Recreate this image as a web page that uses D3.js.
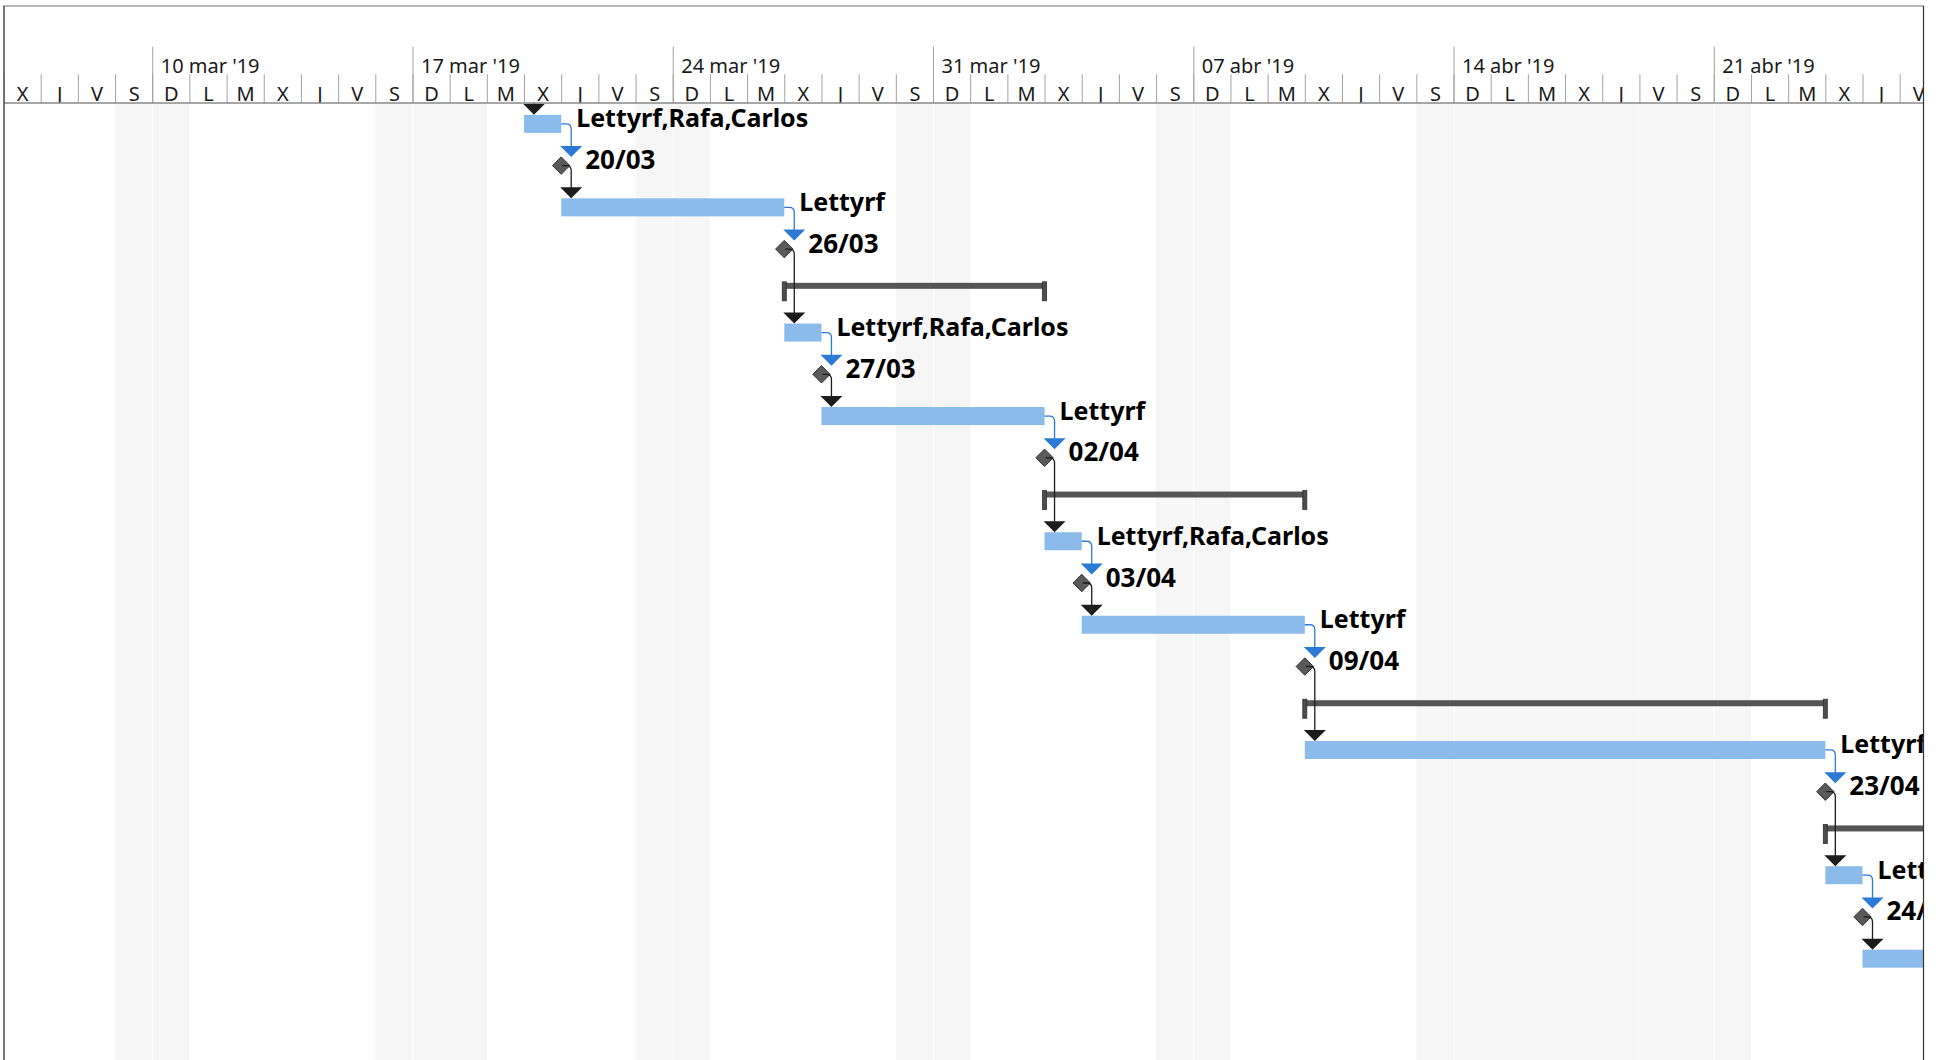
<!DOCTYPE html>
<html>
<head>
<meta charset="utf-8">
<script src="https://cdn.jsdelivr.net/npm/d3@7"></script>
<style>
  body { margin: 0; background: #fff; }
  svg { display: block; font-family: "Noto Sans", "Open Sans", sans-serif; }
</style>
</head>
<body>
<div id="chart"></div>
<script>
// rows of the gantt view, top to bottom
const rowKinds = ['task', 'milestone', 'task', 'milestone', 'summary',
                  'task', 'milestone', 'task', 'milestone', 'summary',
                  'task', 'milestone', 'task', 'milestone', 'summary',
                  'task', 'milestone', 'summary', 'task', 'milestone', 'task'];
const rowStarts = ['2019-03-20', '2019-03-20', '2019-03-21', '2019-03-26', '2019-03-27',
                   '2019-03-27', '2019-03-27', '2019-03-28', '2019-04-02', '2019-04-03',
                   '2019-04-03', '2019-04-03', '2019-04-04', '2019-04-09', '2019-04-10',
                   '2019-04-10', '2019-04-23', '2019-04-24', '2019-04-24', '2019-04-24', '2019-04-25'];
const rowFinishes = ['2019-03-20', '2019-03-20', '2019-03-26', '2019-03-26', '2019-04-02',
                     '2019-03-27', '2019-03-27', '2019-04-02', '2019-04-02', '2019-04-09',
                     '2019-04-03', '2019-04-03', '2019-04-09', '2019-04-09', '2019-04-23',
                     '2019-04-23', '2019-04-23', '2019-05-07', '2019-04-24', '2019-04-24', '2019-05-01'];
const rowLabels = ['Lettyrf,Rafa,Carlos', '20/03', 'Lettyrf', '26/03', '',
                   'Lettyrf,Rafa,Carlos', '27/03', 'Lettyrf', '02/04', '',
                   'Lettyrf,Rafa,Carlos', '03/04', 'Lettyrf', '09/04', '',
                   'Lettyrf', '23/04', '', 'Lettyrf,Rafa,Carlos', '24/04', 'Lettyrf'];
// predecessor -> successor (row index, -1 = task above the view)
const links = [[-1, 0], [0, 1], [1, 2], [2, 3], [3, 5], [5, 6], [6, 7], [7, 8], [8, 10],
               [10, 11], [11, 12], [12, 13], [13, 15], [15, 16], [16, 18], [18, 19], [19, 20]];
const holidays = ['2019-03-18', '2019-04-15', '2019-04-16', '2019-04-17', '2019-04-18', '2019-04-19'];
const dayLetters = ['D', 'L', 'M', 'X', 'J', 'V', 'S'];
const monthAbbr = ['ene', 'feb', 'mar', 'abr', 'may', 'jun', 'jul', 'ago', 'sep', 'oct', 'nov', 'dic'];
const viewStart = '2019-03-06';
const viewEnd = '2019-04-27';

const width = 1942, height = 1060;
const left = 3.5, right = 1923, dayW = 37.18;
const topY = 6, headerBottom = 103, rowH = 41.74;

const parse = d3.utcParse('%Y-%m-%d');
const d0 = parse(viewStart), d1 = parse(viewEnd);
const nDays = d3.utcDay.count(d0, d1);

const x = d3.scaleUtc().domain([d0, d1]).range([left, left + nDays * dayW]);
const y = d3.scaleLinear().domain([0, 1]).range([headerBottom, headerBottom + rowH]);
const yc = i => y(i + 0.5);
const endOf = s => d3.utcDay.offset(parse(s), 1);

const locale = d3.timeFormatLocale({
    dateTime: '%A, %e de %B de %Y, %X', date: '%d/%m/%Y', time: '%H:%M:%S',
    periods: ['AM', 'PM'],
    days: ['domingo', 'lunes', 'martes', 'miércoles', 'jueves', 'viernes', 'sábado'],
    shortDays: ['dom', 'lun', 'mar', 'mié', 'jue', 'vie', 'sáb'],
    months: ['enero', 'febrero', 'marzo', 'abril', 'mayo', 'junio', 'julio', 'agosto',
             'septiembre', 'octubre', 'noviembre', 'diciembre'],
    shortMonths: monthAbbr
});
const fmtWeek = locale.utcFormat("%d %b '%y");

const svg = d3.select('#chart').append('svg')
    .attr('width', width).attr('height', height);

svg.append('clipPath').attr('id', 'clip-head')
    .append('rect').attr('x', 4).attr('y', topY).attr('width', right - 4).attr('height', headerBottom - topY);
svg.append('clipPath').attr('id', 'clip-body')
    .append('rect').attr('x', 4).attr('y', headerBottom).attr('width', right - 4).attr('height', height - headerBottom);

// body: non working days
const body = svg.append('g').attr('clip-path', 'url(#clip-body)');
const holidaySet = new Set(holidays);
const days = d3.utcDay.range(d0, d1);
const offDays = days.filter(d => d.getUTCDay() === 0 || d.getUTCDay() === 6 || holidaySet.has(d3.utcFormat('%Y-%m-%d')(d)));

body.selectAll('rect.off').data(offDays).enter().append('rect')
    .attr('class', 'off')
    .attr('x', d => x(d))
    .attr('y', headerBottom)
    .attr('width', d => x(d3.utcDay.offset(d, 1)) - x(d))
    .attr('height', height - headerBottom)
    .attr('fill', '#f6f6f6');

body.selectAll('line.week').data(d3.utcSunday.range(d0, d1)).enter().append('line')
    .attr('class', 'week')
    .attr('x1', d => x(d) + 0.5).attr('x2', d => x(d) + 0.5)
    .attr('y1', headerBottom).attr('y2', height)
    .attr('stroke', '#fff').attr('stroke-width', 1);

// rows
const rows = rowKinds.map((k, i) => ({
    i, kind: k, label: rowLabels[i],
    x0: x(parse(rowStarts[i])), x1: x(endOf(rowFinishes[i]))
}));

const summaries = rows.filter(r => r.kind === 'summary');
body.selectAll('rect.sum').data(summaries).enter().append('rect')
    .attr('x', r => r.x0).attr('y', r => yc(r.i) - 8)
    .attr('width', r => r.x1 - r.x0).attr('height', 6)
    .attr('fill', '#555');
summaries.forEach(r => {
    [r.x0, r.x1].forEach(cx => {
        body.append('rect')
            .attr('x', cx - 2).attr('y', yc(r.i) - 9)
            .attr('width', 4).attr('height', 19)
            .attr('fill', '#4d4d4d').attr('stroke', '#2e2e2e').attr('stroke-width', 0.8);
    });
});

const tasks = rows.filter(r => r.kind === 'task');
body.selectAll('rect.task').data(tasks).enter().append('rect')
    .attr('x', r => r.x0).attr('y', r => yc(r.i) - 9)
    .attr('width', r => r.x1 - r.x0).attr('height', 18)
    .attr('fill', '#8bbbea');

const miles = rows.filter(r => r.kind === 'milestone');
body.selectAll('path.ms').data(miles).enter().append('path')
    .attr('d', r => {
        const cx = r.x1, cy = yc(r.i), h = 8.7;
        return `M${cx},${cy - h}L${cx + h},${cy}L${cx},${cy + h}L${cx - h},${cy}Z`;
    })
    .attr('fill', '#5a5a5a').attr('stroke', '#333').attr('stroke-width', 1);

// links
links.forEach(([s, t]) => {
    const target = rows[t];
    const src = s < 0 ? null : rows[s];
    const sx = src ? src.x1 : target.x0;
    const sy = src ? yc(src.i) : headerBottom - 30;
    const vx = sx + 10;
    const tipY = target.kind === 'milestone' ? yc(target.i) - 8.5 : yc(target.i) - 9;
    const isTask = src && src.kind === 'task';
    const color = isTask ? '#2b7bd6' : '#1c1c1c';
    body.append('path')
        .attr('d', `M${sx + (isTask ? 0 : 1)},${sy}H${vx - 5}Q${vx},${sy} ${vx},${sy + 5}V${tipY - 10}`)
        .attr('fill', 'none').attr('stroke', color).attr('stroke-width', 1.3);
    body.append('path')
        .attr('d', `M${vx - 11},${tipY - 11}L${vx + 11},${tipY - 11}L${vx},${tipY}Z`)
        .attr('fill', color);
});

// labels
body.selectAll('text.lab').data(rows.filter(r => r.label)).enter().append('text')
    .attr('x', r => r.kind === 'milestone' ? r.x1 + 24 : r.x1 + 15)
    .attr('y', r => yc(r.i) + 3.5)
    .attr('font-size', r => r.kind === 'milestone' ? 26 : 25)
    .attr('font-weight', 700).attr('fill', '#000')
    .text(r => r.label);

// header
const head = svg.append('g').attr('clip-path', 'url(#clip-head)');

const dayAxis = d3.axisTop(x)
    .ticks(d3.utcDay.every(1))
    .tickSize(headerBottom - 74.3)
    .tickFormat(d => dayLetters[d.getUTCDay()]);
const gDay = head.append('g').attr('transform', `translate(0,${headerBottom})`).call(dayAxis);
gDay.select('.domain').remove();
gDay.selectAll('line').attr('stroke', '#a3a3a3');
gDay.selectAll('text')
    .attr('x', dayW / 2).attr('y', -2).attr('dy', null)
    .attr('text-anchor', 'middle')
    .attr('font-family', '"Noto Sans", sans-serif').attr('font-size', 20).attr('fill', '#1a1a1a');

const weekAxis = d3.axisTop(x)
    .ticks(d3.utcSunday.every(1))
    .tickSize(headerBottom - 46.7)
    .tickFormat(fmtWeek);
const gWeek = head.append('g').attr('transform', `translate(0,${headerBottom})`).call(weekAxis);
gWeek.select('.domain').remove();
gWeek.selectAll('line').attr('stroke', '#a3a3a3');
gWeek.selectAll('text')
    .attr('x', 8).attr('y', -(headerBottom - 73.3)).attr('dy', null)
    .attr('text-anchor', 'start')
    .attr('font-family', '"Noto Sans", sans-serif').attr('font-size', 20).attr('fill', '#1a1a1a');

// frame
svg.append('line').attr('x1', 4).attr('x2', right).attr('y1', headerBottom).attr('y2', headerBottom)
    .attr('stroke', '#8a8a8a').attr('stroke-width', 1.6);
svg.append('line').attr('x1', 3).attr('x2', right + 1).attr('y1', topY).attr('y2', topY)
    .attr('stroke', '#6e6e6e').attr('stroke-width', 1.2);
svg.append('line').attr('x1', 4).attr('x2', 4).attr('y1', topY).attr('y2', height)
    .attr('stroke', '#555').attr('stroke-width', 1.6);
svg.append('line').attr('x1', right + 0.5).attr('x2', right + 0.5).attr('y1', topY).attr('y2', height)
    .attr('stroke', '#333').attr('stroke-width', 1.2);
</script>
</body>
</html>
